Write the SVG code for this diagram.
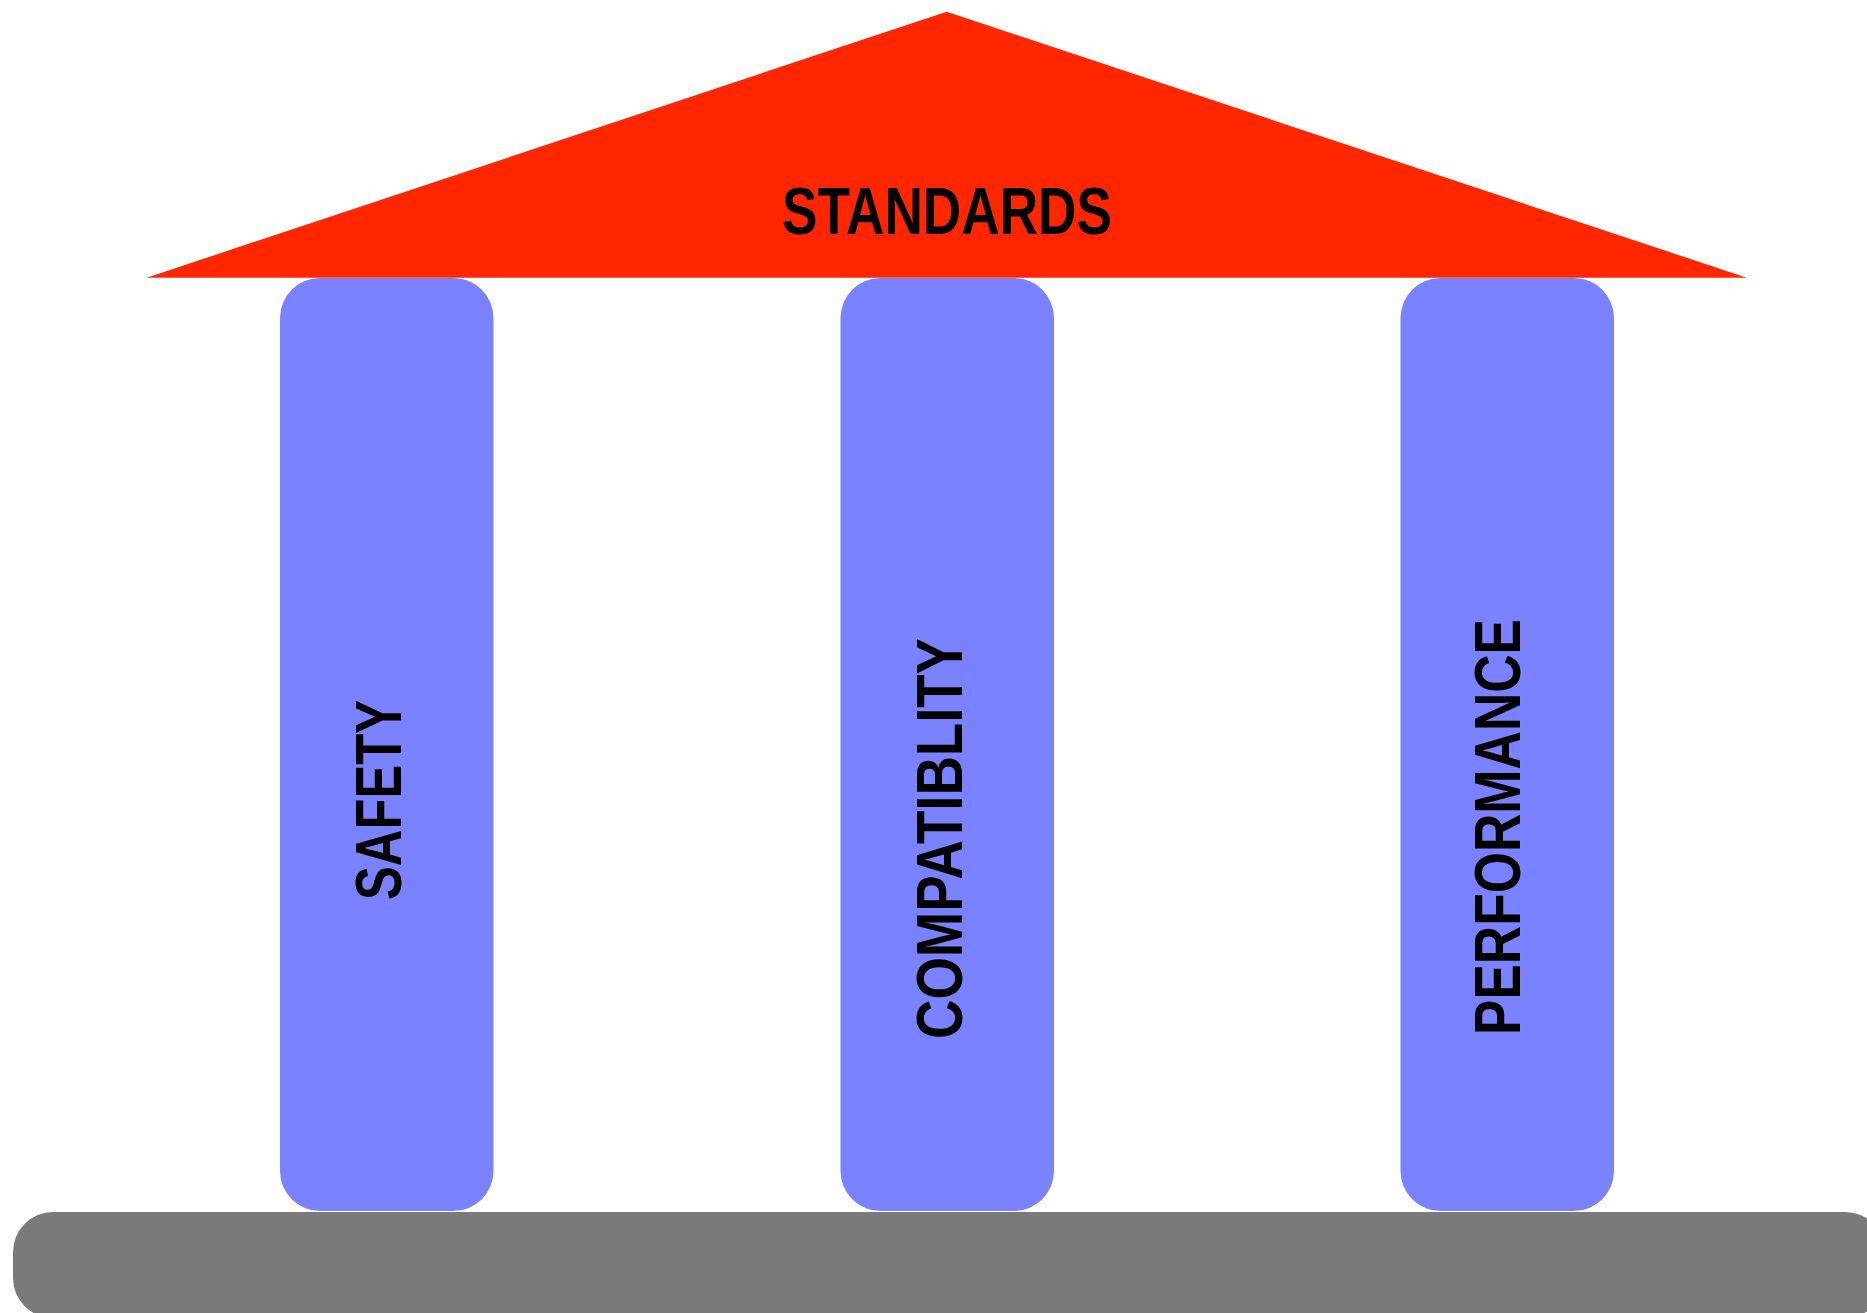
<svg xmlns="http://www.w3.org/2000/svg" width="1867" height="1313" viewBox="0 0 1867 1313">
<style>
.pillar{fill:#7B82FF;}
.lbl{font-family:"Liberation Sans",Arial,sans-serif;font-weight:bold;fill:#000;}
</style>
<rect width="1867" height="1313" fill="#fff"/>
<g id="base"><rect x="13" y="1212" width="1872" height="106" rx="40" ry="40" fill="#7A7A7A"/></g>
<g id="pillar-safety">
<rect class="pillar" x="280" y="278" width="213.5" height="933" rx="40" ry="40"/>
<text class="lbl" font-size="64" transform="translate(401,800) rotate(-90)" text-anchor="middle" textLength="200" lengthAdjust="spacingAndGlyphs">SAFETY</text>
</g>
<g id="pillar-compatibility">
<rect class="pillar" x="840.5" y="278" width="213.5" height="933" rx="40" ry="40"/>
<text class="lbl" font-size="64" transform="translate(962,838.5) rotate(-90)" text-anchor="middle" textLength="401" lengthAdjust="spacingAndGlyphs">COMPATIBLITY</text>
</g>
<g id="pillar-performance">
<rect class="pillar" x="1400.5" y="278" width="213.5" height="933" rx="40" ry="40"/>
<text class="lbl" font-size="64" transform="translate(1520,827) rotate(-90)" text-anchor="middle" textLength="416" lengthAdjust="spacingAndGlyphs">PERFORMANCE</text>
</g>
<g id="roof">
<polygon points="946.7,11.7 1746.7,277.7 146.7,277.7" fill="#FF2600"/>
<text class="lbl" font-size="66" x="947" y="234" text-anchor="middle" textLength="330" lengthAdjust="spacingAndGlyphs">STANDARDS</text>
</g>
<g id="connectors"></g>
</svg>
